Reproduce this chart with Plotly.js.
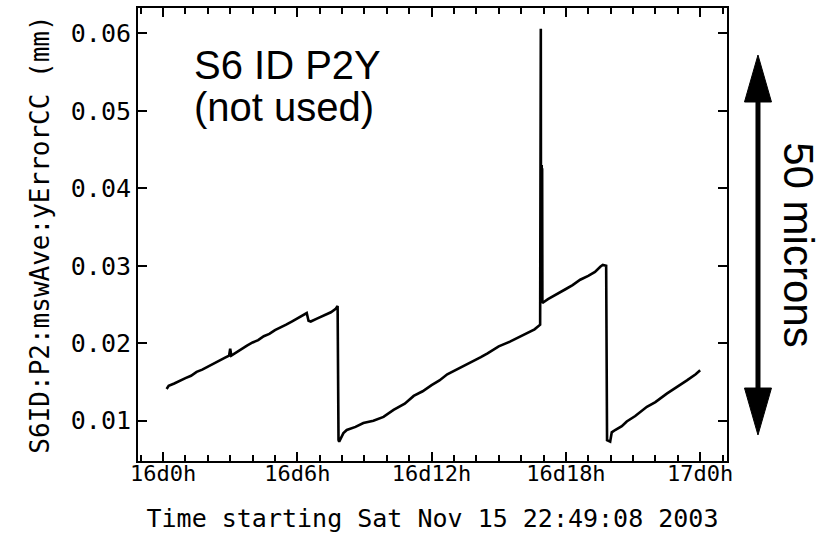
<!DOCTYPE html>
<html>
<head>
<meta charset="utf-8">
<script src="https://cdn.plot.ly/plotly-3.0.1.min.js"></script>
<style>
  html, body { margin: 0; padding: 0; background: #fff; }
  #chart { width: 825px; height: 551px; }
</style>
</head>
<body>
<div id="chart"></div>
<script>
// Hours relative to 16d0h (day 16, 00:00)
const hours = [
  0.16, 0.25, 0.5, 0.75, 1.0, 1.25, 1.5, 1.75, 2.0, 2.25, 2.5, 2.75, 2.95, 3.0, 3.05, 3.25, 3.5, 3.75,
  4.0, 4.25, 4.5, 4.75, 5.0, 5.25, 5.5, 5.75, 6.0, 6.2, 6.42, 6.5, 6.6, 6.9, 7.2, 7.5, 7.7, 7.8,
  7.84, 7.87, 8.06, 8.21, 8.6, 8.95, 9.4, 9.85, 10.3, 10.8, 11.2, 11.6, 12.0, 12.35, 12.7, 13.2,
  13.7, 14.2, 14.5, 15.0, 15.5, 16.0, 16.3, 16.6, 16.85,
  16.88, 16.89, 16.9, 16.91, 16.92, 16.93, 16.94, 16.95,
  17.2, 17.6, 18.0, 18.3, 18.64, 19.0, 19.3, 19.55, 19.65, 19.8,
  19.84, 19.98, 20.05, 20.2, 20.5, 20.72, 21.1, 21.62, 22.0, 22.51, 23.0, 23.41, 23.8, 24.0
];
const errorMM = [
  0.0141, 0.0145, 0.0148, 0.0152, 0.0155, 0.0158, 0.0163, 0.0166, 0.0170, 0.0173, 0.0178, 0.0181, 0.0184, 0.0193, 0.0184, 0.0188, 0.0193, 0.0197,
  0.0201, 0.0204, 0.0209, 0.0212, 0.0217, 0.0220, 0.0224, 0.0228, 0.0232, 0.0235, 0.0239, 0.0229, 0.0228, 0.0232, 0.0236, 0.0240, 0.0244, 0.0248,
  0.0075, 0.0073, 0.0084, 0.0088, 0.0092, 0.0097, 0.0100, 0.0105, 0.0114, 0.0122, 0.0132, 0.0138, 0.0146, 0.0152, 0.0160, 0.0167,
  0.0175, 0.0182, 0.0187, 0.0196, 0.0202, 0.0209, 0.0213, 0.0218, 0.0224,
  0.0606, 0.0252, 0.0428, 0.0253, 0.0430, 0.0252, 0.0426, 0.0252,
  0.0257, 0.0264, 0.0270, 0.0275, 0.0282, 0.0287, 0.0292, 0.0299, 0.0301, 0.0300,
  0.0075, 0.0073, 0.0085, 0.0088, 0.0093, 0.0099, 0.0106, 0.0118, 0.0124, 0.0135, 0.0144, 0.0152, 0.0160, 0.0165
];

const xTickVals = [0, 6, 12, 18, 24];
const xTickText = ["16d0h", "16d6h", "16d12h", "16d18h", "17d0h"];
const yTickVals = [0.01, 0.02, 0.03, 0.04, 0.05, 0.06];
const yTickText = ["0.01", "0.02", "0.03", "0.04", "0.05", "0.06"];

const minorHours = [];
for (let h = -1; h <= 25; h++) { if (h % 6 !== 0) minorHours.push(h); }

const mono = (size) => ({ family: "DejaVu Sans Mono", size: size, color: "#000" });
const sansFont = (size) => ({ family: "Liberation Sans, Arial, sans-serif", size: size, color: "#000" });

const trace = {
  x: hours,
  y: errorMM,
  type: "scatter",
  mode: "lines",
  line: { color: "#000", width: 2.6 },
  hoverinfo: "skip"
};

// plot area: x 138..727 px, y 8..461 px
const arrowX = 1.0526;
const headHalf = 0.0229;
const layout = {
  width: 825,
  height: 551,
  margin: { l: 138, r: 98, t: 8, b: 90 },
  paper_bgcolor: "#fff",
  plot_bgcolor: "#fff",
  showlegend: false,
  font: mono(22),
  xaxis: {
    range: [-1.12, 25.2],
    tickmode: "array",
    tickvals: xTickVals,
    ticktext: xTickText,
    ticks: "inside",
    ticklen: 9,
    tickwidth: 2,
    tickcolor: "#000",
    minor: { tickmode: "array", tickvals: minorHours, ticks: "inside", ticklen: 6, tickwidth: 2, tickcolor: "#000" },
    showline: true, linecolor: "#000", linewidth: 2, mirror: "ticks",
    showgrid: false, zeroline: false,
    tickfont: mono(22),
    ticklabelstandoff: -8,
    title: { text: "Time starting Sat Nov 15 22:49:08 2003", font: mono(25), standoff: 24 }
  },
  yaxis: {
    range: [0.0048, 0.06327],
    tickmode: "array",
    tickvals: yTickVals,
    ticktext: yTickText,
    ticks: "inside",
    ticklen: 9,
    tickwidth: 2,
    tickcolor: "#000",
    showline: true, linecolor: "#000", linewidth: 2, mirror: "ticks",
    showgrid: false, zeroline: false,
    tickfont: mono(25),
    title: { text: "S6ID:P2:mswAve:yErrorCC (mm)", font: mono(26), standoff: 14 }
  },
  annotations: [
    { xref: "paper", yref: "paper", x: 0.0917, y: 0.874, xanchor: "left", yanchor: "middle",
      text: "S6 ID P2Y", showarrow: false, font: sansFont(40) },
    { xref: "paper", yref: "paper", x: 0.0917, y: 0.781, xanchor: "left", yanchor: "middle",
      text: "(not used)", showarrow: false, font: sansFont(40) },
    { xref: "paper", yref: "paper", x: 1.12, y: 0.477, xanchor: "center", yanchor: "middle",
      text: "50 microns", textangle: 90, showarrow: false, font: sansFont(42) }
  ],
  shapes: [
    { type: "line", xref: "paper", yref: "paper", x0: arrowX, x1: arrowX, y0: 0.80, y1: 0.15,
      line: { color: "#000", width: 5 } },
    { type: "path", xref: "paper", yref: "paper",
      path: `M ${arrowX} 0.8962 L ${arrowX + headHalf} 0.7925 L ${arrowX - headHalf} 0.7925 Z`,
      fillcolor: "#000", line: { color: "#000", width: 1 } },
    { type: "path", xref: "paper", yref: "paper",
      path: `M ${arrowX} 0.0574 L ${arrowX + headHalf} 0.1611 L ${arrowX - headHalf} 0.1611 Z`,
      fillcolor: "#000", line: { color: "#000", width: 1 } }
  ]
};

Plotly.newPlot("chart", [trace], layout, { staticPlot: true, displayModeBar: false });
</script>
</body>
</html>
